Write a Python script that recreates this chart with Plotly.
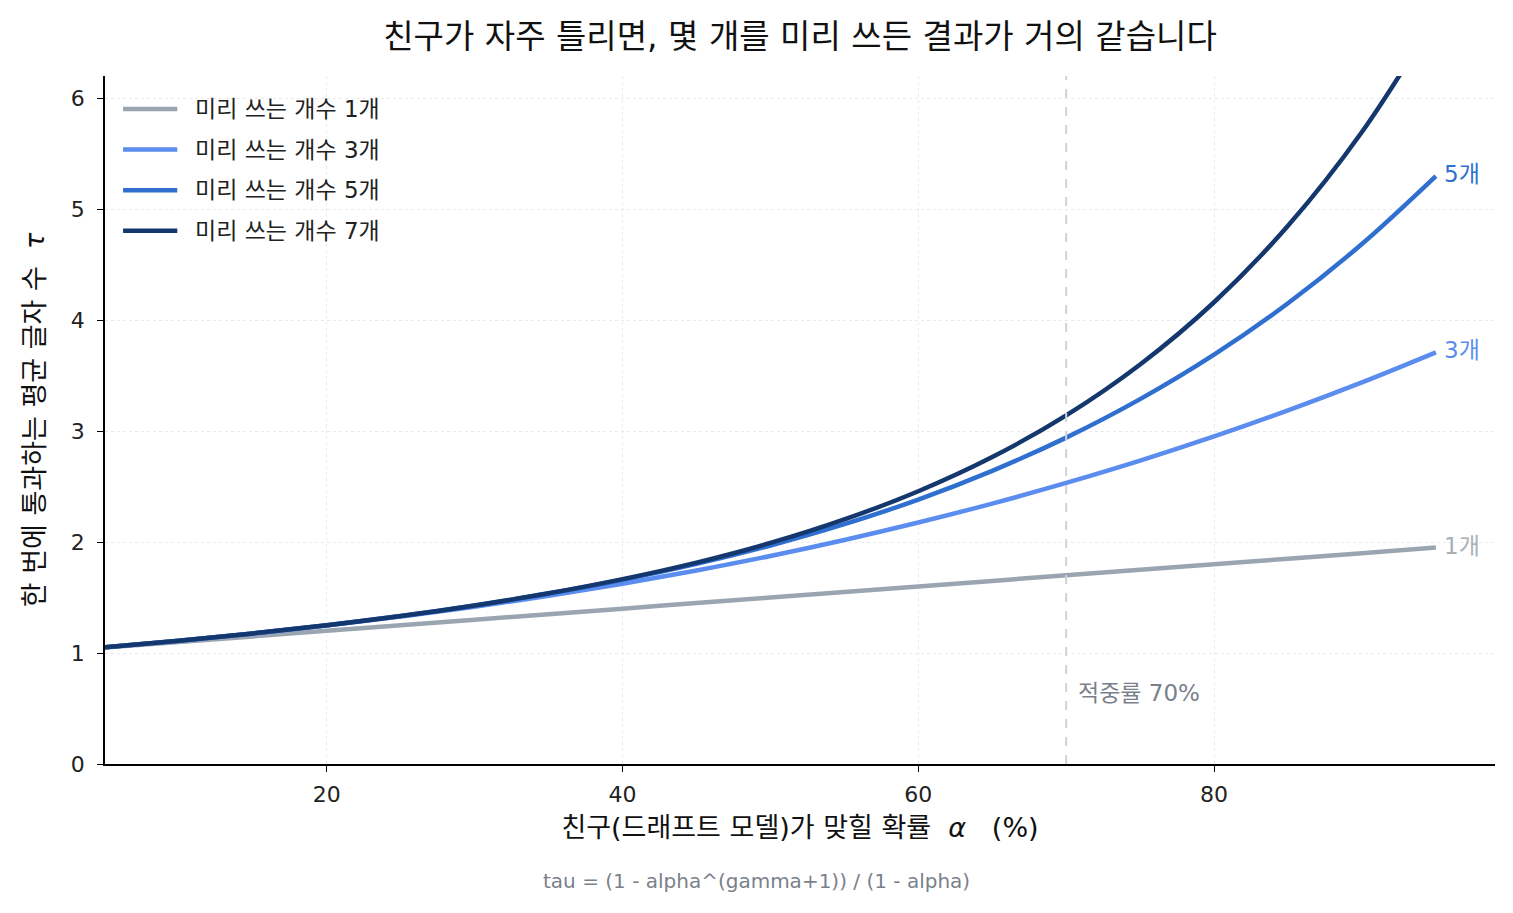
import plotly.graph_objects as go

# acceptance probability alpha (%) and tau values
alpha = [5, 10, 15, 20, 25, 30, 35, 40, 45, 50, 55, 60, 65, 70, 75, 80, 85, 90, 95]
tau_g1 = [1.05, 1.10, 1.15, 1.20, 1.25, 1.30, 1.35, 1.40, 1.45, 1.50,
          1.55, 1.60, 1.65, 1.70, 1.75, 1.80, 1.85, 1.90, 1.95]
tau_g3 = [1.053, 1.111, 1.176, 1.248, 1.328, 1.417, 1.515, 1.624, 1.744, 1.875,
          2.019, 2.176, 2.347, 2.533, 2.734, 2.952, 3.187, 3.439, 3.710]
tau_g5 = [1.053, 1.111, 1.177, 1.250, 1.333, 1.428, 1.536, 1.660, 1.803, 1.969,
          2.161, 2.383, 2.642, 2.941, 3.288, 3.689, 4.152, 4.686, 5.298]
tau_g7 = [1.053, 1.111, 1.177, 1.250, 1.333, 1.429, 1.538, 1.666, 1.815, 1.992,
          2.204, 2.458, 2.766, 3.141, 3.600, 4.161, 4.850, 5.695, 6.732]

names = ["미리 쓰는 개수 1개", "미리 쓰는 개수 3개", "미리 쓰는 개수 5개", "미리 쓰는 개수 7개"]
end_labels = ["1개", "3개", "5개", None]
colors = ["#9aa5b1", "#5b8def", "#2f6fd0", "#14386e"]
label_colors = ["#a9afb7", "#5b8def", "#2f6fd0", "#14386e"]
series = [tau_g1, tau_g3, tau_g5, tau_g7]

FONT = "DejaVu Sans, Noto Sans CJK KR"

fig = go.Figure()
for name, ys, col in zip(names, series, colors):
    fig.add_trace(go.Scatter(
        x=alpha, y=ys, mode="lines", name=name,
        line=dict(color=col, width=4.5, shape="spline"),
        showlegend=False,
    ))

# hand-drawn legend in the top-left corner (paper coordinates)
legend_y = [0.952, 0.893, 0.834, 0.775]
for name, col, ly in zip(names, colors, legend_y):
    fig.add_shape(type="line", xref="paper", yref="paper",
                  x0=0.013, x1=0.052, y0=ly, y1=ly,
                  line=dict(color=col, width=4.5))
    fig.add_annotation(x=0.063, y=ly, xref="paper", yref="paper", text=name,
                       showarrow=False, xanchor="left", yanchor="middle",
                       font=dict(family=FONT, size=23, color="#222222"))

# labels at the right end of each curve
for lab, ys, col in zip(end_labels, series, label_colors):
    if lab is None:
        continue
    fig.add_annotation(x=alpha[-1], y=ys[-1], text=lab, showarrow=False,
                       xanchor="left", xshift=6, yshift=2,
                       font=dict(family=FONT, size=23, color=col))

# reference line at 70%
fig.add_vline(x=70, line=dict(color="#cfd3d8", width=2, dash="dash"))
fig.add_annotation(x=70, y=0.64, text="적중률 70%", showarrow=False,
                   xanchor="left", xshift=10,
                   font=dict(family=FONT, size=23, color="#7a808a"))

fig.add_annotation(x=0.4685, y=-0.170, xref="paper", yref="paper",
                   text="tau = (1 - alpha^(gamma+1)) / (1 - alpha)",
                   showarrow=False, yanchor="middle",
                   font=dict(family=FONT, size=20, color="#7a808a"))

fig.update_layout(
    width=1505, height=905,
    paper_bgcolor="white", plot_bgcolor="white",
    margin=dict(l=97, r=18, t=68, b=149),
    font=dict(family=FONT, size=20, color="#222222"),
    title=dict(text="친구가 자주 틀리면, 몇 개를 미리 쓰든 결과가 거의 같습니다",
               x=0.5, xref="paper", xanchor="center", y=0.969, yanchor="middle",
               font=dict(family=FONT, size=33, color="#111111")),
    showlegend=False,
)
fig.update_xaxes(
    range=[5, 99], tickvals=[20, 40, 60, 80],
    showline=True, linecolor="black", linewidth=1.5,
    ticks="outside", ticklen=6, tickcolor="black", ticklabelstandoff=4,
    showgrid=True, gridcolor="#e8eaed", griddash="dot", gridwidth=1,
    zeroline=False,
    title=dict(text="친구(드래프트 모델)가 맞힐 확률  <i>α</i>   (%)", standoff=12,
               font=dict(family=FONT, size=27, color="#111111")),
    tickfont=dict(size=22),
)
fig.update_yaxes(
    range=[0, 6.2], tickvals=[0, 1, 2, 3, 4, 5, 6],
    showline=True, linecolor="black", linewidth=1.5,
    ticks="outside", ticklen=6, tickcolor="black", ticklabelstandoff=8,
    showgrid=True, gridcolor="#e8eaed", griddash="dot", gridwidth=1,
    zeroline=False,
    title=dict(text="한 번에 통과하는 평균 글자 수  <i>τ</i>", standoff=18,
               font=dict(family=FONT, size=27, color="#111111")),
    tickfont=dict(size=22),
)

fig.write_html("out.html")
